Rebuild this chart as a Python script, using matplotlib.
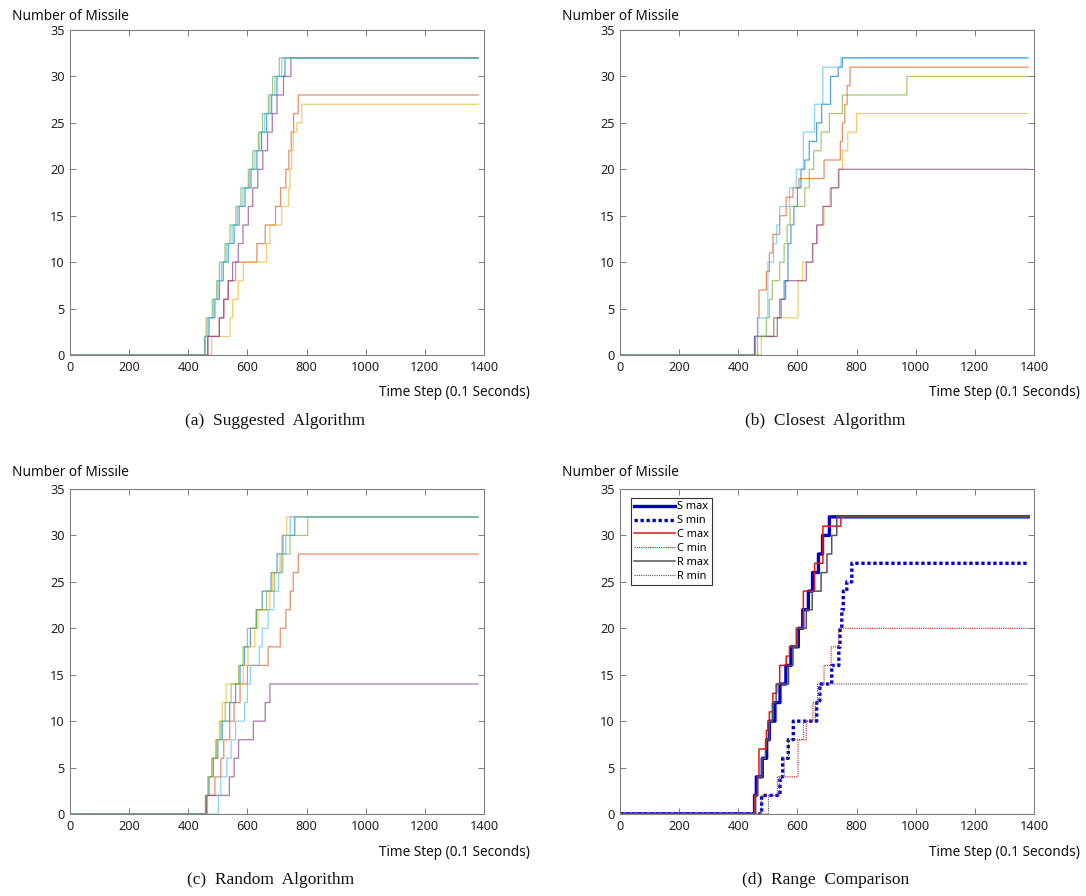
import numpy as np
import matplotlib
matplotlib.use("Agg")
import matplotlib.pyplot as plt

# ---------------- data (step times and missile counts) ----------------
T_END = 1380
X_TICKS = [0, 200, 400, 600, 800, 1000, 1200, 1400]
Y_TICKS = [0, 5, 10, 15, 20, 25, 30, 35]
LEVELS16 = [2, 4, 6, 8, 10, 12, 14, 16, 18, 20, 22, 24, 26, 28, 30, 32]

# (a) Suggested algorithm
sug_blue_t = [456, 470, 490, 505, 518, 535, 555, 572, 592, 612, 632, 648, 665, 682, 700, 727]
sug_blue_n = LEVELS16
sug_orange_t = [466, 505, 520, 535, 560, 632, 660, 695, 712, 730, 740, 748, 756, 772]
sug_orange_n = [2, 4, 6, 8, 10, 12, 14, 16, 18, 20, 22, 24, 26, 28]
sug_yellow_t = [479, 541, 550, 569, 586, 665, 676, 716, 740, 744, 750, 755, 767, 784]
sug_yellow_n = [2, 4, 6, 8, 10, 12, 14, 16, 18, 20, 22, 24, 25, 27]
sug_purple_t = [466, 505, 520, 535, 550, 569, 585, 603, 618, 635, 652, 668, 684, 700, 722, 747]
sug_purple_n = LEVELS16
sug_green_t = [455, 461, 481, 496, 505, 524, 541, 561, 578, 603, 618, 637, 651, 671, 685, 708]
sug_green_n = LEVELS16
sug_lblue_t = [457, 466, 485, 500, 512, 528, 548, 566, 585, 607, 625, 642, 658, 676, 693, 716]
sug_lblue_n = LEVELS16

# (b) Closest algorithm
clo_blue_t = [455, 520, 540, 555, 568, 578, 588, 600, 612, 625, 640, 665, 682, 712, 738, 752]
clo_blue_n = [2, 4, 6, 8, 12, 14, 16, 18, 20, 21, 23, 25, 27, 30, 31, 32]
clo_orange_t = [458, 465, 470, 495, 505, 517, 540, 562, 585, 605, 690, 745, 752, 760, 768, 778]
clo_orange_n = [2, 4, 7, 9, 11, 13, 15, 17, 18, 19, 21, 23, 25, 27, 29, 31]
clo_yellow_t = [478, 520, 602, 618, 650, 668, 690, 710, 738, 752, 770, 800]
clo_yellow_n = [2, 4, 8, 10, 12, 14, 16, 18, 20, 22, 24, 26]
clo_purple_t = [455, 532, 545, 560, 630, 652, 665, 686, 714, 740]
clo_purple_n = [2, 4, 6, 8, 10, 12, 14, 16, 18, 20]
clo_green_t = [465, 495, 505, 515, 540, 555, 565, 575, 625, 640, 655, 680, 708, 752, 970]
clo_green_n = [2, 4, 6, 8, 10, 12, 14, 16, 18, 20, 22, 24, 26, 28, 30]
clo_lblue_t = [458, 466, 500, 519, 530, 540, 573, 596, 620, 658, 686, 747]
clo_lblue_n = [2, 4, 10, 12, 14, 16, 18, 20, 24, 27, 31, 32]

# (c) Random algorithm
ran_blue_t = [458, 470, 485, 500, 515, 540, 560, 575, 590, 610, 630, 650, 680, 700, 720, 760]
ran_blue_n = LEVELS16
ran_orange_t = [462, 490, 510, 520, 540, 555, 575, 600, 670, 711, 730, 745, 755, 772]
ran_orange_n = [2, 4, 6, 8, 10, 12, 14, 16, 18, 20, 22, 24, 26, 28]
ran_yellow_t = [465, 472, 480, 492, 505, 515, 528, 586, 602, 625, 636, 676, 686, 710, 716, 733]
ran_yellow_n = LEVELS16
ran_purple_t = [462, 539, 555, 570, 620, 660, 676]
ran_purple_n = [2, 4, 6, 8, 10, 12, 14]
ran_green_t = [460, 466, 480, 495, 510, 525, 545, 570, 585, 600, 630, 665, 692, 720, 744, 804]
ran_green_n = LEVELS16
ran_lblue_t = [502, 510, 530, 545, 560, 590, 600, 610, 640, 650, 670, 690, 705, 715, 730, 745]
ran_lblue_n = LEVELS16

RUN_COLORS = ["#0072BD", "#D95319", "#EDB120", "#7E2F8E", "#77AC30", "#4DBEEE"]

SUG = [(sug_blue_t, sug_blue_n), (sug_orange_t, sug_orange_n), (sug_yellow_t, sug_yellow_n),
       (sug_purple_t, sug_purple_n), (sug_green_t, sug_green_n), (sug_lblue_t, sug_lblue_n)]
CLO = [(clo_blue_t, clo_blue_n), (clo_orange_t, clo_orange_n), (clo_yellow_t, clo_yellow_n),
       (clo_purple_t, clo_purple_n), (clo_green_t, clo_green_n), (clo_lblue_t, clo_lblue_n)]
RAN = [(ran_blue_t, ran_blue_n), (ran_orange_t, ran_orange_n), (ran_yellow_t, ran_yellow_n),
       (ran_purple_t, ran_purple_n), (ran_green_t, ran_green_n), (ran_lblue_t, ran_lblue_n)]

CAPTIONS = ["(a)  Suggested  Algorithm", "(b)  Closest  Algorithm",
            "(c)  Random  Algorithm", "(d)  Range  Comparison"]
YLABEL = "Number of Missile"
XLABEL = "Time Step (0.1 Seconds)"
LEGEND_LABELS = ["S max", "S min", "C max", "C min", "R max", "R min"]

# ---------------- helpers ----------------
W, H = 1086, 896
GRID = np.arange(0, T_END + 1)


def series(t, n):
    idx = np.searchsorted(np.asarray(t), GRID, side="right") - 1
    vals = np.where(idx >= 0, np.asarray(n)[np.clip(idx, 0, None)], 0)
    return vals


def style_axes(ax):
    ax.set_xlim(0, 1400)
    ax.set_ylim(0, 35)
    ax.set_xticks(X_TICKS)
    ax.set_yticks(Y_TICKS)
    ax.tick_params(direction="in", top=True, right=True, length=4, width=0.6,
                   labelsize=9.2, colors="#666666", labelcolor="#222222", pad=4)
    for s in ax.spines.values():
        s.set_color("#808080")
        s.set_linewidth(0.8)


def px_axes(left, top, right, bottom):
    return [left / W, 1 - bottom / H, (right - left) / W, (bottom - top) / H]


plt.rcParams["font.family"] = ["Noto Sans", "DejaVu Sans"]
fig = plt.figure(figsize=(W / 100, H / 100), dpi=100)

boxes = [px_axes(70, 30, 484, 355), px_axes(620, 30, 1034, 355),
         px_axes(70, 489, 484, 814), px_axes(620, 489, 1034, 814)]
axes = [fig.add_axes(b) for b in boxes]

for ax, runs in zip(axes[:3], [SUG, CLO, RAN]):
    for (t, n), c in zip(runs, RUN_COLORS):
        ax.plot(GRID, series(t, n), drawstyle="steps-post", color=c, lw=0.9, alpha=0.65)

# (d) envelopes
axd = axes[3]
env_styles = [
    dict(color="#0000CC", lw=2.4, ls="-"),
    dict(color="#0000CC", lw=2.4, ls=(0, (1, 0.8))),
    dict(color="#E01818", lw=1.1, ls="-"),
    dict(color="#C01010", lw=0.8, ls=(0, (1, 1))),
    dict(color="#555555", lw=1.1, ls="-"),
    dict(color="#555555", lw=0.8, ls=(0, (1, 1))),
]
envs = []
for runs in [SUG, CLO, RAN]:
    stack = np.vstack([series(t, n) for t, n in runs])
    envs.append(stack.max(axis=0))
    envs.append(stack.min(axis=0))
for env, st, lab in zip(envs, env_styles, LEGEND_LABELS):
    axd.plot(GRID, env, drawstyle="steps-post", label=lab, **st)
leg = axd.legend(loc="upper left", bbox_to_anchor=(0.027, 0.972), fontsize=7.9,
                 handlelength=3.7, handletextpad=0.2, labelspacing=0.27,
                 borderpad=0.3, borderaxespad=0.0, fancybox=False, framealpha=1)
leg.get_frame().set_edgecolor("#333333")
leg.get_frame().set_linewidth(0.8)

for ax in axes:
    style_axes(ax)

# labels and captions
label_pos = [(12, 16, 530, 393, 275, 421), (562, 16, 1080, 393, 825, 421),
             (12, 472, 530, 852, 271, 880), (562, 472, 1080, 852, 826, 880)]
for (yx, yy, xx, xy, cx, cy), cap in zip(label_pos, CAPTIONS):
    fig.text(yx / W, 1 - yy / H, YLABEL, ha="left", va="center", fontsize=9.8, color="#111111")
    fig.text(xx / W, 1 - xy / H, XLABEL, ha="right", va="center", fontsize=9.8, color="#111111")
    fig.text(cx / W, 1 - cy / H, cap, ha="center", va="center", fontsize=12.5,
             family=["Liberation Serif", "DejaVu Serif"], color="#111111")

fig.savefig("out.png", dpi=100)
